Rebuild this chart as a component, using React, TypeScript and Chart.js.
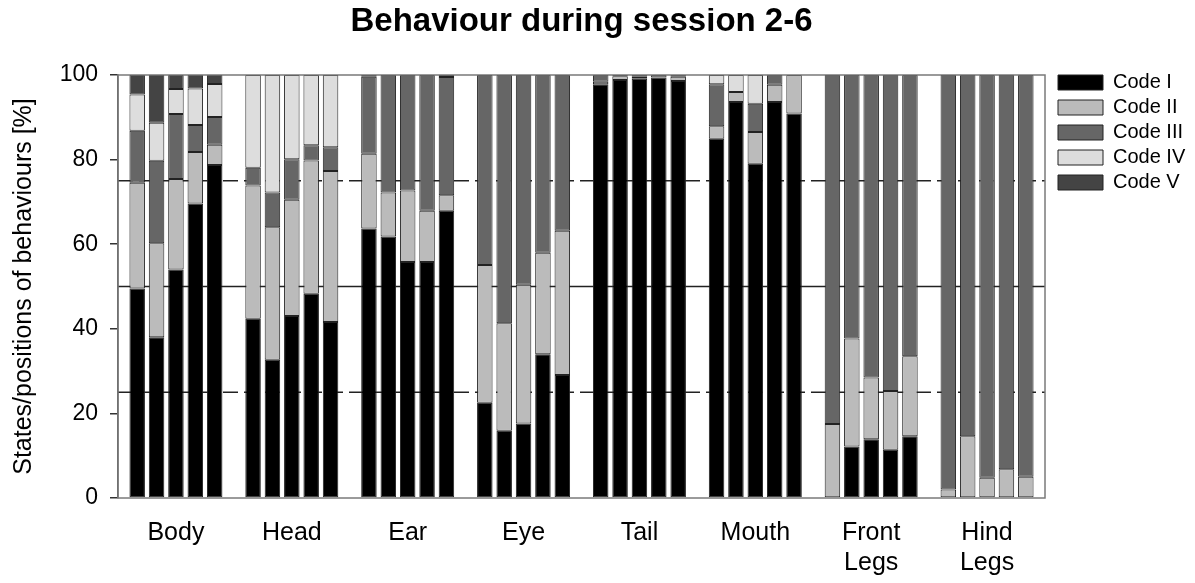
import React, { useEffect, useRef } from "react";
import { Chart, registerables } from "chart.js";

Chart.register(...registerables);

const categories: (string | string[])[] = ["Body", "Head", "Ear", "Eye", "Tail", "Mouth", ["Front", "Legs"], ["Hind", "Legs"]];
const sessions = ["Session 2", "Session 3", "Session 4", "Session 5", "Session 6"];
const codeLabels = ["Code I", "Code II", "Code III", "Code IV", "Code V"];
const codeColors = ["#000000", "#bbbbbb", "#666666", "#dddddd", "#444444"];

// values per category, one entry per session (2..6), in %
const codeI = [
  [49.5, 38.0, 54.0, 69.6, 78.7],
  [42.4, 32.7, 43.0, 48.3, 41.6],
  [63.7, 61.8, 55.8, 55.8, 67.9],
  [22.5, 15.9, 17.6, 34.0, 29.1],
  [97.8, 98.8, 99.1, 99.4, 98.6],
  [84.9, 93.6, 79.0, 93.6, 90.9],
  [0, 12.2, 13.9, 11.4, 14.6],
  [0, 0, 0, 0, 0],
];
const codeII = [
  [25.0, 22.2, 21.4, 12.2, 4.8],
  [31.5, 31.3, 27.5, 31.5, 35.7],
  [17.7, 10.4, 16.9, 12.1, 3.7],
  [32.6, 25.4, 32.8, 24.0, 34.1],
  [0.6, 0.9, 0.5, 0, 1.0],
  [3.0, 2.4, 7.5, 4.1, 9.1],
  [17.5, 25.5, 14.6, 13.9, 18.9],
  [2.0, 14.6, 4.8, 6.8, 5.0],
];
const codeIII = [
  [12.3, 19.5, 15.4, 6.4, 6.6],
  [4.2, 8.2, 9.6, 3.6, 5.6],
  [18.2, 27.8, 27.3, 32.1, 27.9],
  [44.9, 58.7, 49.6, 42.0, 36.8],
  [1.6, 0.3, 0.4, 0.6, 0.4],
  [9.9, 0, 6.7, 2.3, 0],
  [82.5, 62.3, 71.5, 74.7, 66.5],
  [98.0, 85.4, 95.2, 93.2, 95.0],
];
const codeIV = [
  [8.6, 9.0, 5.9, 8.6, 7.8],
  [21.9, 27.8, 19.9, 16.6, 17.1],
  [0, 0, 0, 0, 0],
  [0, 0, 0, 0, 0],
  [0, 0, 0, 0, 0],
  [2.2, 4.0, 6.8, 0, 0],
  [0, 0, 0, 0, 0],
  [0, 0, 0, 0, 0],
];
const codeV = [
  [4.6, 11.3, 3.3, 3.2, 2.1],
  [0, 0, 0, 0, 0],
  [0.4, 0, 0, 0, 0.5],
  [0, 0, 0, 0, 0],
  [0, 0, 0, 0, 0],
  [0, 0, 0, 0, 0],
  [0, 0, 0, 0, 0],
  [0, 0, 0, 0, 0],
];
const codeValues = [codeI, codeII, codeIII, codeIV, codeV];

const refLines = [25, 50, 75];
const refDashed = [true, false, true];
const yTicks = [0, 20, 40, 60, 80, 100];

const FONT = "'Liberation Sans', Arial, Helvetica, sans-serif";

export default function App() {
  const canvasRef = useRef<HTMLCanvasElement | null>(null);

  useEffect(() => {
    if (!canvasRef.current) return;
    const datasets: any[] = [];
    sessions.forEach((_, si) => {
      codeValues.forEach((vals, ci) => {
        datasets.push({
          label: codeLabels[ci],
          data: categories.map((_c, k) => vals[k][si]),
          backgroundColor: codeColors[ci],
          borderColor: "#222222",
          borderWidth: 1,
          borderSkipped: false,
          stack: "s" + si,
          categoryPercentage: 0.836,
          barPercentage: 0.8,
        });
      });
    });

    const refLinePlugin = {
      id: "refLines",
      beforeDatasetsDraw(chart: any) {
        const { ctx, chartArea } = chart;
        const y = chart.scales.y;
        ctx.save();
        ctx.strokeStyle = "#222222";
        ctx.lineWidth = 1.5;
        refLines.forEach((v, i) => {
          const py = y.getPixelForValue(v);
          ctx.setLineDash(refDashed[i] ? [15, 6] : []);
          ctx.beginPath();
          ctx.moveTo(chartArea.left, py);
          ctx.lineTo(chartArea.right, py);
          ctx.stroke();
        });
        ctx.restore();
      },
      afterDatasetsDraw(chart: any) {
        const { ctx, chartArea } = chart;
        ctx.save();
        ctx.strokeStyle = "#7a7a7a";
        ctx.lineWidth = 1.5;
        ctx.strokeRect(chartArea.left, chartArea.top, chartArea.right - chartArea.left, chartArea.bottom - chartArea.top);
        ctx.restore();
      },
      beforeDraw(chart: any) {
        const lg = chart.legend;
        if (lg) {
          const h = lg.bottom - lg.top;
          lg.left = chart.chartArea.right + 8;
          lg.width = 140;
          lg.right = lg.left + 140;
          lg.top = chart.chartArea.top - 7.5;
          lg.bottom = lg.top + h;
        }
      },
    };

    const chart = new Chart(canvasRef.current, {
      type: "bar",
      data: { labels: categories as any, datasets },
      plugins: [refLinePlugin],
      options: {
        animation: false,
        responsive: true,
        maintainAspectRatio: false,
        layout: { padding: { left: 0, right: 10, top: 0, bottom: 0 } },
        plugins: {
          tooltip: { enabled: false },
          title: {
            display: true,
            text: "Behaviour during session 2-6",
            color: "#000",
            fullSize: false,
            font: { family: FONT, size: 33, weight: "bold", lineHeight: 1.2 },
            padding: { top: -6, bottom: 33.4 },
          },
          legend: {
            position: "right",
            align: "start",
            maxWidth: 132,
            labels: {
              filter: (item: any) => item.datasetIndex < codeLabels.length,
              boxWidth: 45,
              boxHeight: 15,
              padding: 5,
              color: "#000",
              font: { family: FONT, size: 20 },
            },
          },
        },
        scales: {
          x: {
            stacked: true,
            grid: { display: false },
            border: { display: false },
            ticks: {
              color: "#000",
              padding: 12,
              maxRotation: 0,
              autoSkip: false,
              font: { family: FONT, size: 25, lineHeight: 1.2 },
            },
            afterFit: (scale: any) => {
              scale.height = 85;
            },
          },
          y: {
            stacked: true,
            min: 0,
            max: 100,
            afterBuildTicks: (scale: any) => {
              scale.ticks = yTicks.map((v) => ({ value: v }));
            },
            grid: {
              drawOnChartArea: false,
              drawTicks: true,
              tickLength: 8,
              color: "#333333",
              lineWidth: 1.5,
            },
            border: { display: true, color: "#555555", width: 1.5 },
            ticks: {
              color: "#000",
              padding: 12,
              font: { family: FONT, size: 23 },
            },
            title: {
              display: true,
              text: "States/positions of behaviours [%]",
              color: "#000",
              padding: { top: 1, bottom: 0 },
              font: { family: FONT, size: 25 },
            },
            afterFit: (scale: any) => {
              scale.width = 110;
            },
          },
        },
      } as any,
    });
    return () => chart.destroy();
  }, []);

  return (
    <div style={{ width: 1179, height: 575, position: "relative" }}>
      <canvas ref={canvasRef} />
    </div>
  );
}
